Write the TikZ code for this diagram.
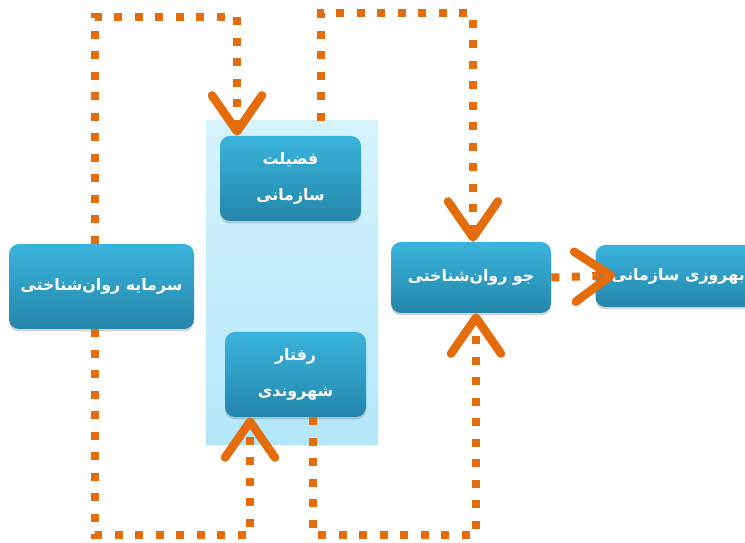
\documentclass[tikz,border=0pt]{standalone}
\usepackage{fontspec}
\newfontfamily\farsi[Script=Arabic]{DejaVu Sans}
\TeXXeTstate=1
\usetikzlibrary{arrows.meta,shadows}
\definecolor{floworange}{RGB}{228,108,10}
\definecolor{boxtop}{RGB}{58,180,220}
\definecolor{boxbottom}{RGB}{36,134,170}
\definecolor{grouptop}{RGB}{214,243,253}
\definecolor{groupbottom}{RGB}{178,231,250}
\begin{document}
\begin{tikzpicture}[
    box/.style={rounded corners=0.2cm, top color=boxtop, bottom color=boxbottom, text=white, align=center,
        drop shadow={opacity=0.35, shadow xshift=0pt, shadow yshift=-0.05cm},
        font=\farsi\bfseries\fontsize{9}{20}\selectfont},
    flow/.style={draw=floworange, line width=0.16cm, dash pattern=on 0.16cm off 0.25cm},
    tip/.style={-{Straight Barb[length=0.72cm, width=1cm, line width=0.17cm, round]}}
]
    % frame
    \useasboundingbox (0, 0) rectangle (14.9, 10.86);
    \clip (0, 0) rectangle (14.9, 10.86);
    % middle group
    \node[top color=grouptop, bottom color=groupbottom, minimum width=3.44cm, minimum height=6.48cm] (group) at (5.84, 5.2) {};
    % boxes
    \node[box, minimum width=3.7cm, minimum height=1.7cm] (capital) at (2.03, 5.13) {\beginR سرمایه روان^^^^200cشناختی\endR};
    \node[box, minimum width=2.82cm, minimum height=1.7cm] (virtue) at (5.81, 7.29) {\beginR فضیلت\endR\\\beginR سازمانی\endR};
    \node[box, minimum width=2.82cm, minimum height=1.7cm] (citizen) at (5.91, 3.37) {\beginR رفتار\endR\\\beginR شهروندی\endR};
    \node[box, minimum width=3.2cm, minimum height=1.42cm] (climate) at (9.42, 5.31) {\beginR جو روان^^^^200cشناختی\endR};
    \node[box, minimum width=3.3cm, minimum height=1.24cm] (wellbeing) at (13.56, 5.34) {\beginR بهروزی سازمانی\endR};
    % top loops
    \coordinate (c1) at (4.74, 10.52);
    \draw[flow, tip] ([xshift=-0.13cm]capital.north) |- (c1) -- (c1 |- virtue.north);
    \coordinate (c2) at (9.46, 10.6);
    \draw[flow, tip] ([xshift=0.58cm]group.north) |- (c2) -- (c2 |- climate.north);
    % bottom loops
    \coordinate (c3) at (5.0, 0.16);
    \draw[flow, tip] ([xshift=-0.13cm]capital.south) |- (c3) -- (c3 |- citizen.south);
    \coordinate (c4) at (9.52, 0.16);
    \draw[flow, tip] ([xshift=0.35cm]citizen.south) |- (c4) -- (c4 |- climate.south);
    % climate to wellbeing
    \draw[flow, tip, shorten >=-0.4cm] (climate.east) -- (wellbeing.west);
\end{tikzpicture}
\end{document}
